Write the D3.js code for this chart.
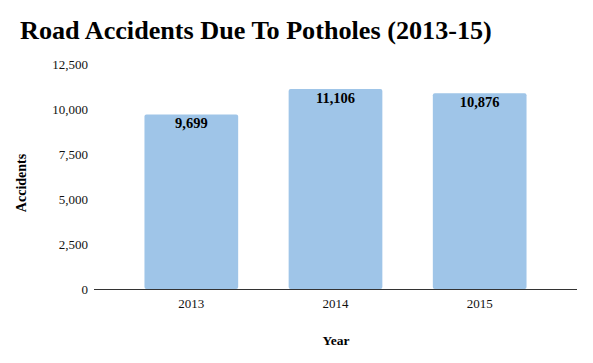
<!DOCTYPE html>
<html><head><meta charset="utf-8">
<script src="https://cdn.jsdelivr.net/npm/d3@7"></script>
<style>body{margin:0;background:#fff}svg{display:block}</style>
</head><body>
<svg id="c" width="593" height="363"></svg>
<script>
const categories = ["2013", "2014", "2015"];
const accidents = [9699, 11106, 10876];
const yTicks = [0, 2500, 5000, 7500, 10000, 12500];
const titleText = "Road Accidents Due To Potholes (2013-15)";
const xTitle = "Year";
const yTitle = "Accidents";

const svg = d3.select("#c");
const serif = "'Liberation Serif','Times New Roman',serif";
const fmt = d3.format(",");

const x = d3.scaleBand().domain(categories).range([94, 577]).paddingInner(0.35).paddingOuter(0.35);
const y = d3.scaleLinear().domain([0, 12500]).range([289, 64]);

// title
const t = svg.append("text").attr("x", 20).attr("y", 39)
  .attr("font-family", serif).attr("font-weight", "bold").attr("font-size", 24)
  .attr("fill", "#000").text(titleText);
const tw = t.node().getComputedTextLength();
t.attr("font-size", 24 * 472 / tw);

// y axis (labels only)
const ya = svg.append("g").attr("transform", "translate(94,0)")
  .call(d3.axisLeft(y).tickValues(yTicks).tickFormat(fmt).tickSize(0).tickPadding(6));
ya.select(".domain").remove();
ya.selectAll("text").attr("font-family", serif).attr("font-size", 13).attr("fill", "#111");

// bars
svg.append("g").selectAll("rect").data(accidents).join("rect")
  .attr("x", (d, i) => x(categories[i]))
  .attr("y", d => y(d))
  .attr("width", x.bandwidth())
  .attr("height", d => y(0) - y(d))
  .attr("rx", 2).attr("fill", "#9fc5e8");

// value labels
svg.append("g").selectAll("text").data(accidents).join("text")
  .attr("x", (d, i) => x(categories[i]) + x.bandwidth() / 2)
  .attr("y", d => y(d) + 13.5)
  .attr("text-anchor", "middle")
  .attr("font-family", serif).attr("font-weight", "bold").attr("font-size", 14.5)
  .attr("fill", "#000").text(d => fmt(d));

// x axis
const xa = svg.append("g").attr("transform", "translate(0,289)")
  .call(d3.axisBottom(x).tickSize(0).tickPadding(10).tickSizeOuter(0));
xa.select(".domain").attr("stroke", "#333").attr("d", "M94,0.5H577");
xa.selectAll("text").attr("font-family", serif).attr("font-size", 13).attr("fill", "#111");

// axis titles
svg.append("text").attr("x", 336).attr("y", 345).attr("text-anchor", "middle")
  .attr("font-family", serif).attr("font-weight", "bold").attr("font-size", 13.5)
  .text(xTitle);
svg.append("text").attr("transform", "translate(26,183) rotate(-90)").attr("text-anchor", "middle")
  .attr("font-family", serif).attr("font-weight", "bold").attr("font-size", 14)
  .text(yTitle);
</script>
</body></html>
